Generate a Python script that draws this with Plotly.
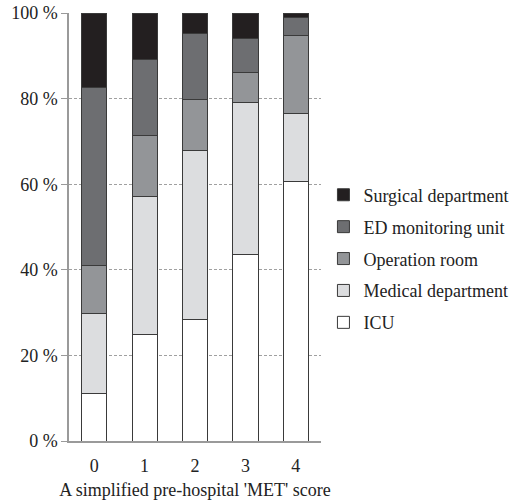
import plotly.graph_objects as go

scores = ["0", "1", "2", "3", "4"]
icu = [11.1, 24.9, 28.3, 43.5, 60.6]
medical = [18.6, 32.2, 39.5, 35.6, 16.0]
operation = [11.3, 14.2, 11.9, 7.0, 18.2]
ed_monitoring = [41.6, 17.9, 15.6, 7.9, 4.2]
surgical = [17.4, 10.8, 4.7, 6.0, 1.0]

series = [
    ("ICU", icu, "#ffffff"),
    ("Medical department", medical, "#dcdddf"),
    ("Operation room", operation, "#939598"),
    ("ED monitoring unit", ed_monitoring, "#6d6e71"),
    ("Surgical department", surgical, "#231f20"),
]

FONT = "Liberation Serif"
FS = 18
fig = go.Figure()
for i, (name, vals, color) in enumerate(series):
    fig.add_trace(go.Bar(
        x=scores, y=vals, name=name, legendgroup=name, legendrank=len(series) - i,
        marker=dict(color=color, line=dict(color="#3a3a3a", width=1)),
    ))

fig.update_layout(
    width=520, height=503,
    barmode="stack", bargap=0.5,
    paper_bgcolor="white", plot_bgcolor="white",
    margin=dict(l=69, r=199, t=13, b=62, autoexpand=False),
    font=dict(family=FONT, size=FS, color="#222222"),
    showlegend=True,
    legend=dict(
        traceorder="grouped", tracegroupgap=5.5,
        xref="container", yref="container",
        x=0.622, y=0.649, xanchor="left", yanchor="top",
        font=dict(family=FONT, size=FS, color="#222222"),
        itemwidth=30,
    ),
)
fig.update_xaxes(
    type="category", range=[-0.5, 4.5], automargin=False,
    showline=True, linecolor="#9a9a9a", linewidth=1.5,
    ticks="", showgrid=False, ticklabelstandoff=8,
    title=dict(text="A simplified pre-hospital 'MET' score", font=dict(family=FONT, size=FS), standoff=8),
    tickfont=dict(family=FONT, size=FS),
)
fig.update_yaxes(
    range=[0, 100], tickvals=[0, 20, 40, 60, 80, 100], automargin=False,
    ticktext=["0 %", "20 %", "40 %", "60 %", "80 %", "100 %"],
    showline=True, linecolor="#9a9a9a", linewidth=1.5,
    ticks="outside", ticklen=6, tickcolor="#9a9a9a",
    showgrid=True, gridcolor="#a0a0a0", griddash="3px,2px", gridwidth=1,
    zeroline=False,
    tickfont=dict(family=FONT, size=FS),
)

fig.write_html("out.html", config={"displayModeBar": False},
               post_script="document.body.style.margin='0';")
